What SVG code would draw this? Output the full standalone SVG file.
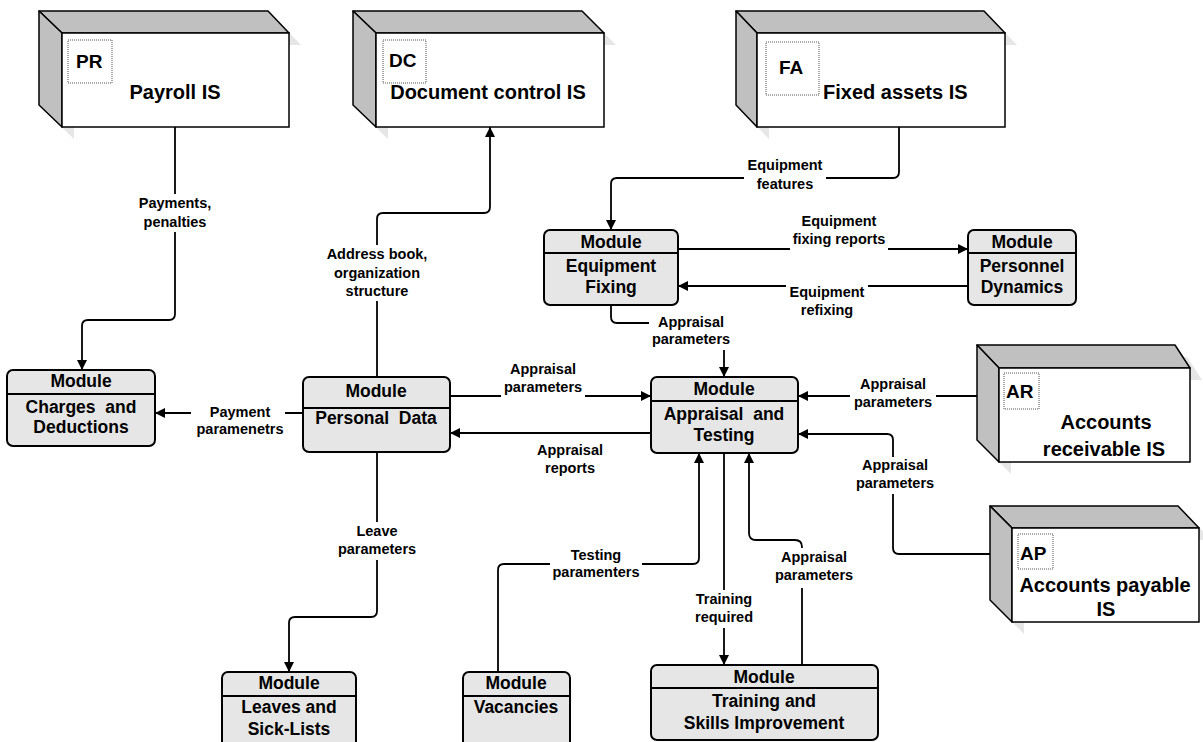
<svg xmlns="http://www.w3.org/2000/svg" width="1203" height="742" viewBox="0 0 1203 742">
<style>
.ent{font-family:"Liberation Sans",Arial,sans-serif;font-weight:bold;font-size:20px;fill:#000}
.code{font-family:"Liberation Sans",Arial,sans-serif;font-weight:bold;font-size:19px;fill:#000}
.side{fill:#c0c0c0;stroke:#000;stroke-width:1.5;stroke-linejoin:round}
.front{fill:#fff;stroke:#000;stroke-width:1.5}
.shadow{fill:#e6e6e6;stroke:none}
.dot{fill:none;stroke:#555;stroke-width:1;stroke-dasharray:1 1}
.mod{fill:#e6e6e6;stroke:#000;stroke-width:2}
.div{stroke:#000;stroke-width:2}
.mt{font-family:"Liberation Sans",Arial,sans-serif;font-weight:bold;font-size:17.5px;fill:#000;text-anchor:middle;white-space:pre}
.con{fill:none;stroke:#000;stroke-width:1.8}
.lbg{fill:#fff}
.lbl{font-family:"Liberation Sans",Arial,sans-serif;font-weight:bold;font-size:14.5px;fill:#000;text-anchor:middle}
</style>
<defs>
<marker id="arr" viewBox="0 0 10 10" refX="10" refY="5" markerWidth="11" markerHeight="10" markerUnits="userSpaceOnUse" orient="auto">
<path d="M0,0 L10,5 L0,10 Z" fill="#000"/>
</marker>
</defs>
<rect width="1203" height="742" fill="#fff"/>

<!-- External entities -->
<g id="PR">
<polygon class="shadow" points="51,23 280,23 301,45 74,45 74,139 51,117"/>
<polygon class="side" points="39,11 268,11 289,33 62,33"/>
<polygon class="side" points="39,11 62,33 62,127 39,105"/>
<rect class="front" x="62" y="33" width="227" height="94"/>
<rect class="dot" x="68" y="40" width="44" height="43"/>
<text class="code" x="76" y="68">PR</text>
<text class="ent" x="175" y="99" text-anchor="middle">Payroll IS</text>
</g>
<g id="DC">
<polygon class="shadow" points="365,23 594,23 616,45 388,45 388,139 365,117"/>
<polygon class="side" points="353,11 582,11 604,33 376,33"/>
<polygon class="side" points="353,11 376,33 376,127 353,105"/>
<rect class="front" x="376" y="33" width="228" height="94"/>
<rect class="dot" x="383" y="40" width="43" height="43"/>
<text class="code" x="389" y="67">DC</text>
<text class="ent" x="488" y="99" text-anchor="middle">Document control IS</text>
</g>
<g id="FA">
<polygon class="shadow" points="748,23 996,23 1017,45 769,45 769,139 748,117"/>
<polygon class="side" points="736,11 984,11 1005,33 757,33"/>
<polygon class="side" points="736,11 757,33 757,127 736,105"/>
<rect class="front" x="757" y="33" width="248" height="94"/>
<rect class="dot" x="766" y="42" width="53" height="53"/>
<text class="code" x="779" y="74">FA</text>
<text class="ent" x="823" y="99">Fixed assets IS</text>
</g>
<g id="AR">
<polygon class="shadow" points="989,357 1187,357 1202,380 1011,380 1011,474 989,452"/>
<polygon class="side" points="977,345 1175,345 1190,368 999,368"/>
<polygon class="side" points="977,345 999,368 999,462 977,440"/>
<rect class="front" x="999" y="368" width="191" height="94"/>
<rect class="dot" x="1004" y="373" width="35" height="36"/>
<text class="code" x="1006" y="398">AR</text>
<text class="ent" x="1106" y="429" text-anchor="middle">Accounts</text>
<text class="ent" x="1104" y="456" text-anchor="middle">receivable IS</text>
</g>
<g id="AP">
<polygon class="shadow" points="1002,518 1190,518 1211,540 1024,540 1024,634 1002,612"/>
<polygon class="side" points="990,506 1178,506 1199,528 1012,528"/>
<polygon class="side" points="990,506 1012,528 1012,622 990,600"/>
<rect class="front" x="1012" y="528" width="187" height="94"/>
<rect class="dot" x="1018" y="534" width="35" height="35"/>
<text class="code" x="1020" y="560">AP</text>
<text class="ent" x="1105" y="592" text-anchor="middle">Accounts payable</text>
<text class="ent" x="1106" y="616" text-anchor="middle">IS</text>
</g>

<!-- Connectors -->
<g id="connectors">
<path class="con" marker-end="url(#arr)" d="M175,127 V314 Q175,320 169,320 H88 Q82,320 82,326 V370"/>
<path class="con" marker-end="url(#arr)" d="M303,413 H155"/>
<path class="con" marker-end="url(#arr)" d="M377,377 V219 Q377,213 383,213 H484 Q490,213 490,207 V127"/>
<path class="con" marker-end="url(#arr)" d="M899,127 V172 Q899,178 893,178 H617 Q611,178 611,184 V230"/>
<path class="con" marker-end="url(#arr)" d="M678,249 H968"/>
<path class="con" marker-end="url(#arr)" d="M968,286 H678"/>
<path class="con" marker-end="url(#arr)" d="M611,305 V317 Q611,323 617,323 H718 Q724,323 724,329 V377"/>
<path class="con" marker-end="url(#arr)" d="M450,396 H651"/>
<path class="con" marker-end="url(#arr)" d="M651,433 H450"/>
<path class="con" marker-end="url(#arr)" d="M977,396 H798"/>
<path class="con" marker-end="url(#arr)" d="M990,554 H899 Q893,554 893,548 V440 Q893,434 887,434 H798"/>
<path class="con" marker-end="url(#arr)" d="M498,672 V570 Q498,564 504,564 H693 Q699,564 699,558 V453"/>
<path class="con" marker-end="url(#arr)" d="M724,453 V665"/>
<path class="con" marker-end="url(#arr)" d="M802,665 V547 Q802,540 795,540 H756 Q749,540 749,533 V453"/>
<path class="con" marker-end="url(#arr)" d="M377,452 V611 Q377,617 371,617 H295 Q289,617 289,623 V672"/>

<rect class="lbg" x="136" y="194" width="78" height="38"/>
<text class="lbl" x="175" y="208">Payments,</text>
<text class="lbl" x="175" y="227">penalties</text>

<rect class="lbg" x="191" y="402" width="94" height="37"/>
<text class="lbl" x="240" y="417">Payment</text>
<text class="lbl" x="240" y="434">paramenetrs</text>

<rect class="lbg" x="331" y="245" width="92" height="56"/>
<text class="lbl" x="377" y="259">Address book,</text>
<text class="lbl" x="377" y="278">organization</text>
<text class="lbl" x="377" y="296">structure</text>

<rect class="lbg" x="744" y="157" width="82" height="37"/>
<text class="lbl" x="785" y="170">Equipment</text>
<text class="lbl" x="785" y="189">features</text>

<rect class="lbg" x="790" y="213" width="98" height="38"/>
<text class="lbl" x="839" y="226">Equipment</text>
<text class="lbl" x="839" y="244">fixing reports</text>

<rect class="lbg" x="786" y="283" width="82" height="37"/>
<text class="lbl" x="827" y="297">Equipment</text>
<text class="lbl" x="827" y="315">refixing</text>

<rect class="lbg" x="649" y="314" width="84" height="36"/>
<text class="lbl" x="691" y="327">Appraisal</text>
<text class="lbl" x="691" y="344">parameters</text>

<rect class="lbg" x="501" y="361" width="84" height="38"/>
<text class="lbl" x="543" y="374">Appraisal</text>
<text class="lbl" x="543" y="392">parameters</text>

<text class="lbl" x="570" y="455">Appraisal</text>
<text class="lbl" x="570" y="473">reports</text>

<rect class="lbg" x="850" y="376" width="86" height="37"/>
<text class="lbl" x="893" y="389">Appraisal</text>
<text class="lbl" x="893" y="407">parameters</text>

<rect class="lbg" x="852" y="457" width="86" height="37"/>
<text class="lbl" x="895" y="470">Appraisal</text>
<text class="lbl" x="895" y="488">parameters</text>

<rect class="lbg" x="550" y="547" width="92" height="36"/>
<text class="lbl" x="596" y="560">Testing</text>
<text class="lbl" x="596" y="577">paramenters</text>

<rect class="lbg" x="690" y="590" width="68" height="38"/>
<text class="lbl" x="724" y="604">Training</text>
<text class="lbl" x="724" y="622">required</text>

<rect class="lbg" x="771" y="548" width="86" height="40"/>
<text class="lbl" x="814" y="562">Appraisal</text>
<text class="lbl" x="814" y="580">parameters</text>

<rect class="lbg" x="335" y="522" width="84" height="38"/>
<text class="lbl" x="377" y="536">Leave</text>
<text class="lbl" x="377" y="554">parameters</text>
</g>

<!-- Modules -->
<g id="charges">
<rect class="mod" x="7" y="370" width="148" height="76" rx="6"/>
<line class="div" x1="7" y1="394" x2="155" y2="394"/>
<text class="mt" x="81" y="387">Module</text>
<text class="mt" x="81" y="413">Charges  and</text>
<text class="mt" x="81" y="433">Deductions</text>
</g>
<g id="personal">
<rect class="mod" x="303" y="377" width="147" height="75" rx="6"/>
<line class="div" x1="303" y1="408" x2="450" y2="408"/>
<text class="mt" x="376" y="397">Module</text>
<text class="mt" x="376" y="424">Personal  Data</text>
</g>
<g id="appraisal">
<rect class="mod" x="651" y="377" width="147" height="76" rx="6"/>
<line class="div" x1="651" y1="401" x2="798" y2="401"/>
<text class="mt" x="724" y="395">Module</text>
<text class="mt" x="724" y="420">Appraisal  and</text>
<text class="mt" x="724" y="441">Testing</text>
</g>
<g id="eqfix">
<rect class="mod" x="544" y="230" width="134" height="75" rx="6"/>
<line class="div" x1="544" y1="253" x2="678" y2="253"/>
<text class="mt" x="611" y="248">Module</text>
<text class="mt" x="611" y="272">Equipment</text>
<text class="mt" x="611" y="293">Fixing</text>
</g>
<g id="personnel">
<rect class="mod" x="968" y="230" width="108" height="75" rx="6"/>
<line class="div" x1="968" y1="253" x2="1076" y2="253"/>
<text class="mt" x="1022" y="248">Module</text>
<text class="mt" x="1022" y="272">Personnel</text>
<text class="mt" x="1022" y="293">Dynamics</text>
</g>
<g id="leaves">
<rect class="mod" x="222" y="672" width="134" height="90" rx="6"/>
<line class="div" x1="222" y1="696" x2="356" y2="696"/>
<text class="mt" x="289" y="689">Module</text>
<text class="mt" x="289" y="713">Leaves and</text>
<text class="mt" x="289" y="735">Sick-Lists</text>
</g>
<g id="vacancies">
<rect class="mod" x="463" y="672" width="107" height="90" rx="6"/>
<line class="div" x1="463" y1="696" x2="570" y2="696"/>
<text class="mt" x="516" y="689">Module</text>
<text class="mt" x="516" y="713">Vacancies</text>
</g>
<g id="training">
<rect class="mod" x="651" y="665" width="227" height="75" rx="6"/>
<line class="div" x1="651" y1="688" x2="878" y2="688"/>
<text class="mt" x="764" y="683">Module</text>
<text class="mt" x="764" y="707">Training and</text>
<text class="mt" x="764" y="729">Skills Improvement</text>
</g>
</svg>
